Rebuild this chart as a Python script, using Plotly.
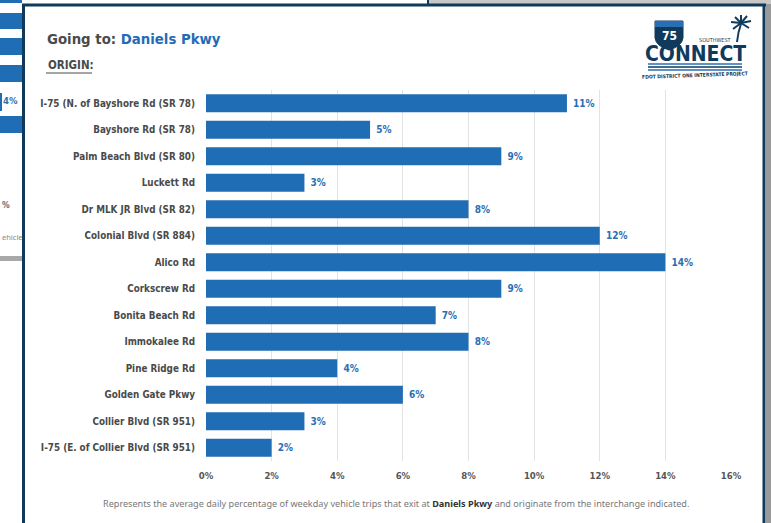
"""Going to: Daniels Pkwy — 出発インターチェンジ別の割合 (横棒グラフ)"""

import plotly.graph_objects as go

# ---------- データ ----------
ORIGINS = [
    "I-75 (N. of Bayshore Rd (SR 78)",
    "Bayshore Rd (SR 78)",
    "Palm Beach Blvd (SR 80)",
    "Luckett Rd",
    "Dr MLK JR Blvd (SR 82)",
    "Colonial Blvd (SR 884)",
    "Alico Rd",
    "Corkscrew Rd",
    "Bonita Beach Rd",
    "Immokalee Rd",
    "Pine Ridge Rd",
    "Golden Gate Pkwy",
    "Collier Blvd (SR 951)",
    "I-75 (E. of Collier Blvd (SR 951)",
]
SHARE_PCT = [11, 5, 9, 3, 8, 12, 14, 9, 7, 8, 4, 6, 3, 2]
X_TICKS = [0, 2, 4, 6, 8, 10, 12, 14, 16]

# ---------- 表示設定 ----------
W, H = 771, 523
L, R, T, B = 206, 731, 90, 461          # プロット領域 (px)
BAR = "#1f6db5"
LABEL_BLUE = "#2a6fb5"
NAVY = "#0f3a5c"
GRAY_TXT = "#4a4a4a"
COND = "Liberation Sans Narrow, DejaVu Sans Condensed, Arial Narrow, sans-serif"


def px(x):
    return (x - L) / (R - L)


def py(y):
    return (B - y) / (B - T)


fig = go.Figure()

fig.add_trace(go.Bar(
    x=SHARE_PCT,
    y=ORIGINS,
    orientation="h",
    marker=dict(color=BAR, line=dict(width=0)),
    text=[f" {v}%" for v in SHARE_PCT],
    textposition="outside",
    textfont=dict(color=LABEL_BLUE, size=10, family=COND, weight="bold"),
    cliponaxis=False,
    hovertemplate="%{y}: %{x}%<extra></extra>",
))

shapes = []
annotations = []

# ---------- 背景 (後ろのスライド) ----------
# 右側の影
shapes.append(dict(type="rect", xref="paper", yref="paper",
                   x0=px(766), x1=px(771), y0=py(523), y1=py(0),
                   fillcolor="#9a9a9a", line=dict(width=0), layer="above"))
# 上部のグレー (カード外)
shapes.append(dict(type="rect", xref="paper", yref="paper",
                   x0=px(428), x1=px(771), y0=py(4), y1=py(0),
                   fillcolor="#c8c8c8", line=dict(width=0)))
# 後ろのカードの右端
shapes.append(dict(type="line", xref="paper", yref="paper",
                   x0=px(428), x1=px(428), y0=py(4), y1=py(0),
                   line=dict(color=NAVY, width=2)))
# 後ろのカードの棒の切れ端
for y0, y1 in [(0, 3), (13, 29), (38, 55), (65, 82), (116, 133)]:
    shapes.append(dict(type="rect", xref="paper", yref="paper",
                       x0=px(0), x1=px(22), y0=py(y1), y1=py(y0),
                       fillcolor=BAR, line=dict(width=0)))
shapes.append(dict(type="line", xref="paper", yref="paper",
                   x0=px(1), x1=px(1), y0=py(111), y1=py(93),
                   line=dict(color=BAR, width=2)))
# 後ろのカード下端の影
shapes.append(dict(type="rect", xref="paper", yref="paper",
                   x0=px(0), x1=px(22), y0=py(261), y1=py(256),
                   fillcolor="#a8a8a8", line=dict(width=0)))
annotations += [
    dict(text="<b>4%</b>", x=px(20), y=py(101), xanchor="right", yanchor="middle",
         font=dict(size=9.5, color=LABEL_BLUE, family=COND)),
    dict(text="<b>%</b>", x=px(0), y=py(205), xanchor="left", yanchor="middle",
         font=dict(size=8.5, color="#666", family=COND)),
    dict(text="ehicle", x=px(0), y=py(237), xanchor="left", yanchor="middle",
         font=dict(size=7.5, color="#888", family="Noto Sans, sans-serif")),
]

# ---------- カード枠 ----------
shapes.append(dict(type="line", xref="paper", yref="paper",
                   x0=px(23.5), x1=px(23.5), y0=py(523), y1=py(4),
                   line=dict(color=NAVY, width=3)))
shapes.append(dict(type="line", xref="paper", yref="paper",
                   x0=px(22), x1=px(766), y0=py(5), y1=py(5),
                   line=dict(color=NAVY, width=3)))
shapes.append(dict(type="line", xref="paper", yref="paper",
                   x0=px(764), x1=px(764), y0=py(523), y1=py(4),
                   line=dict(color=NAVY, width=3)))

# ---------- タイトル ----------
annotations += [
    dict(text=f"<b>Going to: <span style='color:{BAR}'>Daniels Pkwy</span></b>",
         x=px(45), y=py(38), xanchor="left", yanchor="middle",
         font=dict(size=14.8, color=GRAY_TXT, family=COND)),
    dict(text="<b>ORIGIN:</b>", x=px(46), y=py(65), xanchor="left", yanchor="middle",
         font=dict(size=11.5, color=GRAY_TXT, family=COND)),
]
shapes.append(dict(type="line", xref="paper", yref="paper",
                   x0=px(46), x1=px(92), y0=py(73), y1=py(73),
                   line=dict(color=GRAY_TXT, width=1)))

# ---------- ロゴ (簡略) ----------
shapes.append(dict(type="path", xref="paper", yref="paper",
                   path=(f"M {px(655)},{py(21)} L {px(683)},{py(21)} L {px(683)},{py(38)} "
                         f"Q {px(682)},{py(46)} {px(669)},{py(50)} "
                         f"Q {px(656)},{py(46)} {px(655)},{py(38)} Z"),
                   fillcolor=NAVY, line=dict(color=NAVY, width=1)))
shapes.append(dict(type="rect", xref="paper", yref="paper",
                   x0=px(655), x1=px(683), y0=py(27), y1=py(21),
                   fillcolor="#2a6fb5", line=dict(width=0)))
for yy, col in [(64, "#2a6fb5"), (67, NAVY), (70, "#2a6fb5")]:
    shapes.append(dict(type="line", xref="paper", yref="paper",
                       x0=px(648), x1=px(742), y0=py(yy), y1=py(yy),
                       line=dict(color=col, width=1.5)))
# ヤシの木
shapes.append(dict(type="path", xref="paper", yref="paper",
                   path=f"M {px(737)},{py(42)} Q {px(738)},{py(32)} {px(741)},{py(24)}",
                   line=dict(color=NAVY, width=2)))
for ex, ey in [(731, 22), (733, 29), (751, 21), (749, 28), (741, 15), (735, 17), (747, 16)]:
    shapes.append(dict(type="line", xref="paper", yref="paper",
                       x0=px(741), x1=px(ex), y0=py(23), y1=py(ey),
                       line=dict(color=NAVY, width=2)))
annotations += [
    dict(text="<b>75</b>", x=px(669), y=py(36), xanchor="center", yanchor="middle",
         font=dict(size=12, color="white", family=COND)),
    dict(text="<b>CONNECT</b>", x=px(695), y=py(54), xanchor="center", yanchor="middle",
         font=dict(size=21, color=NAVY, family=COND)),
    dict(text="SOUTHWEST", x=px(715), y=py(40), xanchor="center", yanchor="middle",
         font=dict(size=5.5, color=NAVY, family=COND)),
    dict(text="<b>FDOT DISTRICT ONE INTERSTATE PROJECT</b>", x=px(695), y=py(75),
         xanchor="center", yanchor="middle", textangle=-2,
         font=dict(size=5, color=NAVY, family=COND)),
]

# ---------- 注記 ----------
annotations.append(dict(
    text=("Represents the average daily percentage of weekday vehicle trips that exit at "
          "<b><span style='color:#333'>Daniels Pkwy</span></b> and originate from the interchange indicated."),
    x=px(396), y=py(503), xanchor="center", yanchor="middle",
    font=dict(size=9.1, color="#777", family="Noto Sans, sans-serif"),
))

fig.update_layout(
    width=W,
    height=H,
    margin=dict(l=L, r=W - R, t=T, b=H - B, pad=0),
    paper_bgcolor="white",
    plot_bgcolor="rgba(0,0,0,0)",
    showlegend=False,
    bargap=0.32,
    font=dict(family=COND, color=GRAY_TXT),
    xaxis=dict(
        range=[0, 16],
        tickvals=X_TICKS,
        ticktext=[f"<b>{v}%</b>" for v in X_TICKS],
        showgrid=True,
        gridcolor="#e3e3e3",
        gridwidth=1,
        zeroline=False,
        showline=False,
        ticks="outside",
        ticklen=6,
        tickcolor="rgba(0,0,0,0)",
        tickfont=dict(size=9.5, color="#555", family=COND),
        fixedrange=True,
    ),
    yaxis=dict(
        autorange="reversed",
        showgrid=False,
        zeroline=False,
        showline=False,
        ticks="outside",
        ticklen=8,
        tickcolor="rgba(0,0,0,0)",
        tickfont=dict(size=9.8, color=GRAY_TXT, family=COND, weight="bold"),
        fixedrange=True,
    ),
    shapes=shapes,
    annotations=[dict(a, xref="paper", yref="paper", showarrow=False) for a in annotations],
)

# ブラウザ既定の body 余白 (8px) を消す・モードバー非表示
fig.write_html(
    "out.html",
    config={"displayModeBar": False},
    post_script="document.body.style.margin='0';",
)
